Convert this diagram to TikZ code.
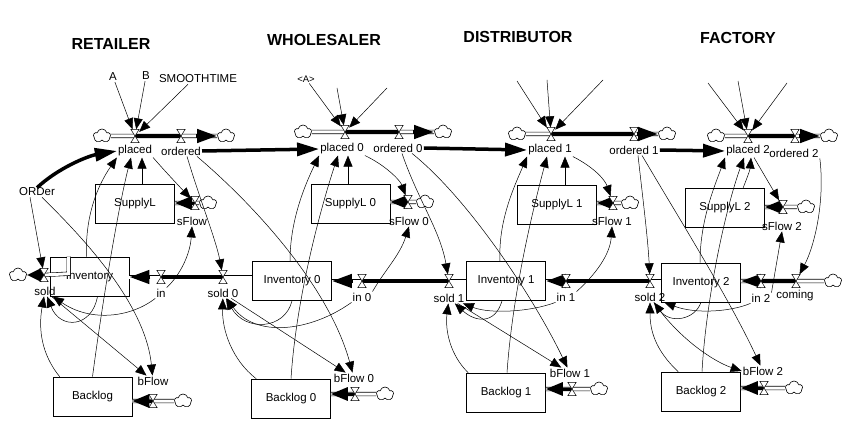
\documentclass[tikz,border=0pt]{standalone}
\usepackage{fontspec}
\setmainfont{Liberation Sans}
\usetikzlibrary{arrows.meta,shapes.symbols,calc}
\begin{document}
\begin{tikzpicture}[x=1pt,y=-1pt,
 lbl/.style={inner sep=1pt,font=\fontsize{11.5}{13}\selectfont},
 smalllbl/.style={inner sep=1pt,font=\fontsize{9.5}{11}\selectfont},
 ttl/.style={inner sep=1pt,font=\fontsize{16}{18}\selectfont\bfseries},
 stock/.style={draw,line width=0.6pt,minimum width=79pt,minimum height=39pt,inner sep=0pt,font=\fontsize{11.5}{13}\selectfont},
 valve/.style={inner sep=0pt,minimum width=8pt,minimum height=13pt},
 cld/.style={cloud,cloud puffs=5,cloud ignores aspect,draw,line width=0.6pt,fill=white,minimum width=17pt,minimum height=14pt,inner sep=0pt},
 pipe/.style={line width=0.6pt,double=white,double distance=3pt},
 thk/.style={line width=4pt},
 flowtip/.style={line width=4pt,-{Triangle[length=20pt,width=13pt]}},
 shorttip/.style={line width=3pt,-{Triangle[length=17pt,width=13pt]}},
 info/.style={line width=0.5pt,-{Triangle[length=11pt,width=9pt]}},
 bigarrow/.style={line width=3.5pt,-{Triangle[length=22pt,width=13pt]}}]
\fill[white] (0,0) rectangle (856,422);
\useasboundingbox (0,0) rectangle (856,422);
% titles
\node[ttl] (tR) at (111,44) {RETAILER};
\node[ttl] (tW) at (324,40) {WHOLESALER};
\node[ttl] (tD) at (518,37) {DISTRIBUTOR};
\node[ttl] (tF) at (738,38) {FACTORY};
% ---------- retailer
\node[lbl] (LA) at (113,77) {A};
\node[lbl] (LB) at (146,76) {B};
\node[lbl] (LS) at (198,79) {SMOOTHTIME};
\node[cld] (cA0) at (102,136) {};
\node[cld] (cB0) at (226,136) {};
\node[valve] (vP0) at (135,136) {};
\node[valve] (vO0) at (181,136) {};
\node[lbl] (P0) at (135,151) {placed};
\node[lbl] (O0) at (181,151) {ordered};
\node[lbl] (ORD) at (37,192) {ORDer};
\node[stock] (S0) at (135,203.5) {SupplyL};
\node[valve] (vSF0) at (195,203) {};
\node[cld] (cS0) at (208,203) {};
\node[lbl] (SF0) at (192,221) {sFlow};
\node[stock] (I0) at (89.5,276.5) {Inventory};
\node[valve] (vSD0) at (44,275) {};
\node[cld] (cSD0) at (18,275) {};
\node[lbl] (SD0) at (45,291) {sold};
\node[valve] (vIN0) at (161,277) {};
\node[lbl] (IN0) at (161,293) {in};
\node[stock] (B0) at (92.5,396.5) {Backlog};
\node[valve] (vBF0) at (153,401) {};
\node[cld] (cBF0) at (183,401) {};
\node[lbl] (BF0) at (153,381) {bFlow};
% ---------- wholesaler
\node[smalllbl] (LA1) at (306,79) {<A>};
\coordinate (w2) at (337,88);
\coordinate (w3) at (387,88);
\node[cld] (cA1) at (303,132) {};
\node[cld] (cB1) at (443,132) {};
\node[valve] (vP1) at (345,132) {};
\node[valve] (vO1) at (399,132) {};
\node[lbl] (P1) at (342,149) {placed 0};
\node[lbl] (O1) at (398,148) {ordered 0};
\node[stock] (S1) at (350.5,203.5) {SupplyL 0};
\node[valve] (vSF1) at (408,202) {};
\node[cld] (cS1) at (425,202) {};
\node[lbl] (SF1) at (409,221) {sFlow 0};
\node[stock] (I1) at (292,281) {Inventory 0};
\node[valve] (vSD1) at (223,277) {};
\node[lbl] (SD1) at (223,293) {sold 0};
\node[valve] (vIN1) at (362,281) {};
\node[lbl] (IN1) at (362,297) {in 0};
\node[stock] (B1) at (291,398.5) {Backlog 0};
\node[valve] (vBF1) at (355,394) {};
\node[cld] (cBF1) at (385,394) {};
\node[lbl] (BF1) at (354,378) {bFlow 0};
% ---------- distributor
\coordinate (d1) at (517,81);
\coordinate (d2) at (547,80);
\coordinate (d3) at (603,80);
\node[cld] (cA2) at (517,134) {};
\node[cld] (cB2) at (667,134) {};
\node[valve] (vP2) at (551,134) {};
\node[valve] (vO2) at (634,134) {};
\node[lbl] (P2) at (550,150) {placed 1};
\node[lbl] (O2) at (634,150) {ordered 1};
\node[stock] (S2) at (557,204.5) {SupplyL 1};
\node[valve] (vSF2) at (613,203) {};
\node[cld] (cS2) at (630,203) {};
\node[lbl] (SF2) at (612,221) {sFlow 1};
\node[stock] (I2) at (506,281) {Inventory 1};
\node[valve] (vSD2) at (449,281) {};
\node[lbl] (SD2) at (449,298) {sold 1};
\node[valve] (vIN2) at (566,281) {};
\node[lbl] (IN2) at (566,297) {in 1};
\node[stock] (B2) at (506,392.5) {Backlog 1};
\node[valve] (vBF2) at (572,389) {};
\node[cld] (cBF2) at (599,389) {};
\node[lbl] (BF2) at (570,373) {bFlow 1};
% ---------- factory
\coordinate (f1) at (708,83);
\coordinate (f2) at (738,81);
\coordinate (f3) at (787,83);
\node[cld] (cA3) at (716,136) {};
\node[cld] (cB3) at (829,136) {};
\node[valve] (vP3) at (748,136) {};
\node[valve] (vO3) at (795,136) {};
\node[lbl] (P3) at (748,151) {placed 2};
\node[lbl] (O3) at (794,153) {ordered 2};
\node[stock] (S3) at (725,208) {SupplyL 2};
\node[valve] (vSF3) at (783,207) {};
\node[cld] (cS3) at (806,207) {};
\node[lbl] (SF3) at (782,226) {sFlow 2};
\node[stock] (I3) at (701,282.5) {Inventory 2};
\node[valve] (vSD3) at (650,281) {};
\node[lbl] (SD3) at (650,297) {sold 2};
\node[valve] (vIN3) at (761,281) {};
\node[lbl] (IN3) at (761,298) {in 2};
\node[valve] (vCM) at (796,281) {};
\node[lbl] (CM) at (795,296) {coming};
\node[cld] (cCM) at (833,281) {};
\node[stock] (B3) at (701,391.5) {Backlog 2};
\node[valve] (vBF3) at (764,388) {};
\node[cld] (cBF3) at (794,388) {};
\node[lbl] (BF3) at (763,371) {bFlow 2};
% ---------- material flows
\foreach \k in {0,1,2,3} {
  \draw[pipe] (cA\k) -- (cB\k);
  \draw[thk] (vP\k.center) -- (vO\k.center);
  \draw[flowtip] ($(cB\k.west)+(-21,0)$) -- (cB\k.west);
  \draw[pipe] (cS\k) -- (S\k.east |- vSF\k);
  \draw[shorttip] (vSF\k.center) -- (S\k.east |- vSF\k);
  \draw[pipe] (cBF\k) -- (B\k.east |- vBF\k);
  \draw[shorttip] (vBF\k.center) -- (B\k.east |- vBF\k);
}
\draw[pipe] (vSD0.center) -- ($(I0.north west)+(19,17)$) -- ($(I0.north west)+(19,0)$);
\draw[line width=4pt,-{Triangle[length=15pt,width=13pt]}] (vSD0.center) -- (cSD0.east);
\draw[pipe] (I1.west |- vSD1) -- (I0.east |- vSD1);
\draw[thk] (vSD1.center) -- (vIN0.center);
\draw[flowtip] ($(I0.east |- vIN0)+(21,0)$) -- (I0.east |- vIN0);
\draw[pipe] (I2.west |- vSD2) -- (I1.east |- vSD2);
\draw[thk] (vSD2.center) -- (vIN1.center);
\draw[flowtip] ($(I1.east |- vIN1)+(21,0)$) -- (I1.east |- vIN1);
\draw[pipe] (I3.west |- vSD3) -- (I2.east |- vSD3);
\draw[thk] (vSD3.center) -- (vIN2.center);
\draw[flowtip] ($(I2.east |- vIN2)+(21,0)$) -- (I2.east |- vIN2);
\draw[pipe] (cCM) -- (I3.east |- vCM);
\draw[thk] (vCM.center) -- (vIN3.center);
\draw[flowtip] ($(I3.east |- vIN3)+(21,0)$) -- (I3.east |- vIN3);
% valves
\foreach \v in {vP0,vO0,vSF0,vSD0,vIN0,vBF0,vP1,vO1,vSF1,vSD1,vIN1,vBF1,vP2,vO2,vSF2,vSD2,vIN2,vBF2,vP3,vO3,vSF3,vSD3,vIN3,vCM,vBF3}
  \draw[line width=0.5pt,fill=white] (\v.north west) -- (\v.north east) -- (\v.south west) -- (\v.south east) -- cycle;
% inter-stage order arrows
\draw[bigarrow] ($(ORD.north)+(0,1)$) .. controls (58,168) and (88,156) .. (P0.west);
\draw[bigarrow] (O0.east) -- (P1.west);
\draw[bigarrow] (O1.east) -- (P2.west);
\draw[bigarrow] (O2.east) -- (P3.west);
% ---------- information links: retailer
\draw[info] (LA) -- (vP0);
\draw[info] (LB) -- (vP0);
\draw[info] ($(LS.south)+(-10,0)$) -- (vP0);
\draw[info] ($(ORD.south)+(-7,0)$) -- (vSD0);
\draw[info] ($(ORD.south)+(5,0)$) .. controls (75,230) and (145,300) .. (BF0);
\draw[info] (P0.south east) .. controls (162,168) and (178,185) .. (vSF0);
\draw[info] ($(O0.south)+(6,0)$) .. controls (200,200) and (216,240) .. (vSD1);
\draw[info] ($(O0.south)+(16,0)$) .. controls (260,210) and (330,290) .. (BF1);
\draw[info] ($(S0.north)+(7,0)$) -- ($(P0.south)+(7,0)$);
\draw[info] ($(I0.north)+(-3,0)$) .. controls (85,215) and (98,185) .. (P0.south west);
\draw[info] (B0.north) .. controls (104,290) and (120,200) .. ($(P0.south)+(-4,0)$);
\draw[info] (IN0.north east) .. controls (180,275) and (190,255) .. (SF0.south);
\draw[info] (IN0.south west) .. controls (130,318) and (90,322) .. (SD0);
\draw[info] ($(I0.south)+(8,0)$) .. controls (92,328) and (60,330) .. (SD0);
\draw[info] ($(B0.north west)+(7,0)$) .. controls (42,355) and (38,330) .. (SD0);
\draw[info] (SD0) -- (BF0);
% wholesaler
\draw[info] (LA1) -- (vP1);
\draw[info] (w2) -- (vP1);
\draw[info] (w3) -- (vP1);
\draw[info] (P1.south east) .. controls (385,165) and (400,180) .. (vSF1);
\draw[info] ($(S1.north)+(-2.5,0)$) -- ($(P1.south)+(6,0)$);
\draw[info] ($(I1.north)+(-2,0)$) .. controls (290,220) and (305,185) .. (P1.south west);
\draw[info] (B1.north) .. controls (296,300) and (320,210) .. ($(P1.south)+(-4,0)$);
\draw[info] ($(O1.south)+(4,0)$) .. controls (418,200) and (440,230) .. (vSD2);
\draw[info] ($(O1.south)+(14,0)$) .. controls (470,200) and (535,300) .. (BF2);
\draw[info] (IN1.north east) .. controls (385,270) and (400,255) .. (SF1.south);
\draw[info] (I1.south) .. controls (285,330) and (245,332) .. (SD1);
\draw[info] (IN1.south west) .. controls (310,332) and (255,338) .. (SD1);
\draw[info] ($(B1.north west)+(5,0)$) .. controls (232,360) and (222,330) .. (SD1);
\draw[info] (SD1) -- (BF1);
% distributor
\draw[info] (d1) -- (vP2);
\draw[info] (d2) -- (vP2);
\draw[info] (d3) -- (vP2);
\draw[info] (P2.south east) .. controls (595,168) and (605,180) .. (vSF2);
\draw[info] ($(S2.north)+(8,0)$) -- ($(P2.south)+(15,0)$);
\draw[info] ($(I2.north)+(-6,0)$) .. controls (498,220) and (515,185) .. (P2.south west);
\draw[info] ($(B2.north)+(1,0)$) .. controls (512,300) and (530,220) .. ($(P2.south)+(-3,0)$);
\draw[info] ($(O2.south)+(4,0)$) .. controls (643,200) and (648,240) .. (vSD3);
\draw[info] ($(O2.south)+(8,0)$) .. controls (680,220) and (730,300) .. (BF3);
\draw[info] (IN2.north east) .. controls (595,275) and (610,255) .. (SF2.south);
\draw[info] ($(I2.south)+(-4,0)$) .. controls (495,325) and (475,322) .. (SD2);
\draw[info] (IN2.south west) .. controls (530,312) and (490,314) .. (SD2);
\draw[info] ($(B2.north west)+(2,0)$) .. controls (450,355) and (445,330) .. (SD2);
\draw[info] (SD2) -- (BF2);
% factory
\draw[info] (f1) -- (vP3);
\draw[info] (f2) -- (vP3);
\draw[info] (f3) -- (vP3);
\draw[info] ($(P3.south)+(6,0)$) -- (vSF3);
\draw[info] ($(S3.north)+(18,0)$) .. controls (747,178) and (750,170) .. ($(P3.south)+(3,0)$);
\draw[info] ($(I3.north)+(-1,0)$) .. controls (700,220) and (715,185) .. (P3.south west);
\draw[info] ($(B3.north)+(1,0)$) .. controls (706,300) and (725,210) .. ($(P3.south)+(-4,0)$);
\draw[info] (IN3.north east) -- (SF3.south);
\draw[info] (O3.south east) .. controls (825,200) and (815,245) .. (vCM);
\draw[info] (I3.south) .. controls (695,320) and (670,324) .. (SD3);
\draw[info] (IN3.south west) .. controls (730,312) and (695,314) .. (SD3);
\draw[info] ($(B3.north west)+(17,0)$) .. controls (655,350) and (650,330) .. (SD3);
\draw[info] (SD3) .. controls (680,340) and (715,362) .. (BF3.west);
\end{tikzpicture}
\end{document}
